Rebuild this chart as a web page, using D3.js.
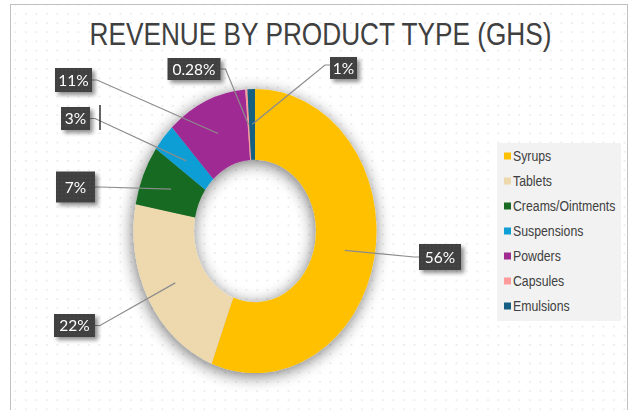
<!DOCTYPE html>
<html>
<head>
<meta charset="utf-8">
<script src="https://cdn.jsdelivr.net/npm/d3@7/dist/d3.min.js"></script>
<style>
  html, body { margin: 0; padding: 0; background: #fff; }
  svg { display: block; }
</style>
</head>
<body>
<div id="chart"></div>
<script>
// ---------- data ----------
const title = "REVENUE BY PRODUCT TYPE (GHS)";
const categories = ["Syrups", "Tablets", "Creams/Ointments", "Suspensions", "Powders", "Capsules", "Emulsions"];
const shares = [55.8, 22.2, 6.8, 3.2, 10.7, 0.28, 1.0];
const colors = ["#FFC000", "#EDD9AD", "#196B24", "#0F9ED5", "#A02B93", "#FF9B9B", "#156082"];

// ---------- layout (positions / sizes, kept apart from data) ----------
const W = 635, H = 410;
const center = { x: 255, y: 231 };
const rOuter = 121.5, rInner = 61, yStretch = 1.169;
const narrow = 0.82; // horizontal squeeze to imitate a narrow face
const labelBoxes = [
  { x: 440, y: 257, w: 42, h: 26, side: "left" },
  { x: 74.5, y: 325.5, w: 41, h: 23, side: "right" },
  { x: 75.5, y: 187, w: 39, h: 31, side: "right" },
  { x: 75.5, y: 118.5, w: 29, h: 23, side: "right" },
  { x: 73.5, y: 80, w: 37, h: 24, side: "right" },
  { x: 194, y: 69, w: 53, h: 22, side: "right" },
  { x: 343.5, y: 68, w: 27, h: 22, side: "left" }
];
const legendBox = { x: 497, y: 143, w: 124, h: 178, firstY: 156, step: 25 };

// ---------- svg ----------
const svg = d3.select("#chart").append("svg").attr("width", W).attr("height", H);
const defs = svg.append("defs");

const dots = defs.append("pattern").attr("id", "dots").attr("patternUnits", "userSpaceOnUse")
  .attr("width", 10.5).attr("height", 9.2);
dots.append("circle").attr("cx", 5).attr("cy", 4.5).attr("r", 0.9).attr("fill", "#e4e4e4");

const dotsDark = defs.append("pattern").attr("id", "dotsDark").attr("patternUnits", "userSpaceOnUse")
  .attr("width", 4).attr("height", 4);
dotsDark.append("rect").attr("width", 4).attr("height", 4).attr("fill", "#404040");
dotsDark.append("circle").attr("cx", 2).attr("cy", 2).attr("r", 0.7).attr("fill", "#4b4b4b");

const shadow = defs.append("filter").attr("id", "donutShadow")
  .attr("x", "-30%").attr("y", "-30%").attr("width", "160%").attr("height", "160%");
shadow.append("feGaussianBlur").attr("in", "SourceAlpha").attr("stdDeviation", 8).attr("result", "b");
shadow.append("feOffset").attr("in", "b").attr("dx", -1).attr("dy", 3).attr("result", "o");
shadow.append("feComponentTransfer").attr("in", "o").attr("result", "s")
  .append("feFuncA").attr("type", "linear").attr("slope", 0.55);
const m1 = shadow.append("feMerge");
m1.append("feMergeNode").attr("in", "s");
m1.append("feMergeNode").attr("in", "SourceGraphic");

const boxShadow = defs.append("filter").attr("id", "boxShadow")
  .attr("x", "-30%").attr("y", "-30%").attr("width", "170%").attr("height", "180%");
boxShadow.append("feGaussianBlur").attr("in", "SourceAlpha").attr("stdDeviation", 2).attr("result", "b");
boxShadow.append("feOffset").attr("in", "b").attr("dx", 3).attr("dy", 3).attr("result", "o");
boxShadow.append("feComponentTransfer").attr("in", "o").attr("result", "s")
  .append("feFuncA").attr("type", "linear").attr("slope", 0.45);
const m2 = boxShadow.append("feMerge");
m2.append("feMergeNode").attr("in", "s");
m2.append("feMergeNode").attr("in", "SourceGraphic");

// background + border
svg.append("rect").attr("width", W).attr("height", H).attr("fill", "#fff");
svg.append("rect").attr("x", 10.5).attr("y", 4.5).attr("width", 617).attr("height", H + 10)
  .attr("fill", "url(#dots)").attr("stroke", "#c0c0c0").attr("stroke-width", 1);

// title
svg.append("text").attr("transform", `translate(320.5,45) scale(${narrow},1)`)
  .attr("text-anchor", "middle")
  .attr("font-family", "'Liberation Sans', Arial, sans-serif")
  .attr("font-size", 32).attr("fill", "#404040").text(title);

// donut
const pie = d3.pie().sort(null).value(d => d).startAngle(0).endAngle(2 * Math.PI);
const arcs = pie(shares);
const arc = d3.arc().innerRadius(rInner).outerRadius(rOuter);

const outer = svg.append("g").attr("transform", `translate(${center.x},${center.y})`)
  .attr("filter", "url(#donutShadow)");
const donut = outer.append("g").attr("transform", `scale(1,${yStretch})`);
donut.selectAll("path").data(arcs).join("path")
  .attr("d", arc).attr("fill", (d, i) => colors[i]);

// labels
const total = d3.sum(shares);
const fmt = v => {
  const p = v / total * 100;
  return p < 1 ? p.toFixed(2) + "%" : Math.round(p) + "%";
};

const lines = svg.append("g");
const boxes = svg.append("g");
arcs.forEach((d, i) => {
  const c = arc.centroid(d);
  const ax = center.x + c[0], ay = center.y + c[1] * yStretch;
  const b = labelBoxes[i];
  const sx = b.side === "left" ? b.x - b.w / 2 : b.x + b.w / 2;
  const sy = b.y - (i === 6 ? 3 : 0);
  const ex = b.side === "left" ? sx - 5 : sx + 5;
  lines.append("path")
    .attr("d", d3.line()([[sx, sy], [ex, sy], [ax, ay]]))
    .attr("fill", "none").attr("stroke", "#8c8c8c").attr("stroke-width", 1.2);
  const g = boxes.append("g").attr("filter", "url(#boxShadow)");
  g.append("rect").attr("x", b.x - b.w / 2).attr("y", b.y - b.h / 2)
    .attr("width", b.w).attr("height", b.h).attr("fill", "url(#dotsDark)");
  g.append("text").attr("x", b.x).attr("y", b.y + 5.5).attr("text-anchor", "middle")
    .attr("font-family", "'Lato', 'Open Sans', sans-serif")
    .attr("font-size", 15.5).attr("fill", "#fff").text(fmt(shares[i]));
});
// small dark tick beside the 3% label (present in reference)
svg.append("line").attr("x1", 100).attr("x2", 100).attr("y1", 105).attr("y2", 130)
  .attr("stroke", "#333").attr("stroke-width", 1.5);

// legend
const lg = svg.append("g");
lg.append("rect").attr("x", legendBox.x).attr("y", legendBox.y)
  .attr("width", legendBox.w).attr("height", legendBox.h).attr("fill", "#f2f2f2");
const items = lg.selectAll("g.item").data(categories).join("g").attr("class", "item")
  .attr("transform", (d, i) => `translate(${legendBox.x + 7},${legendBox.firstY + i * legendBox.step})`);
items.append("rect").attr("x", 0).attr("y", -3.5).attr("width", 7).attr("height", 7)
  .attr("fill", (d, i) => colors[i]);
items.append("text").attr("transform", `translate(9,5) scale(${narrow},1)`)
  .attr("font-family", "'Liberation Sans', Arial, sans-serif")
  .attr("font-size", 15).attr("fill", "#404040").text(d => d);
</script>
</body>
</html>
